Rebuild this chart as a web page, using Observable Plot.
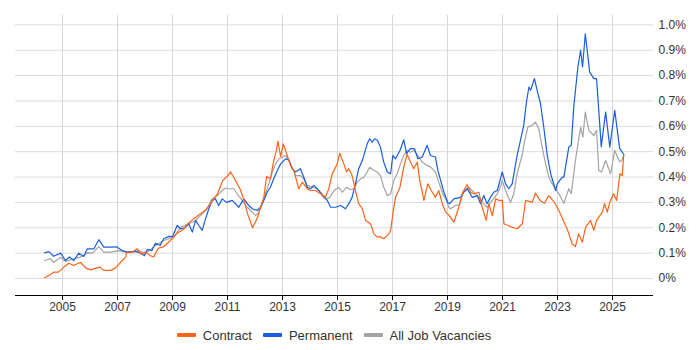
<!DOCTYPE html>
<html><head><meta charset="utf-8">
<script src="https://cdn.jsdelivr.net/npm/d3@7"></script>
<script src="https://cdn.jsdelivr.net/npm/@observablehq/plot@0.6"></script>
<style>
body{margin:0;background:#fff;font-family:"Liberation Sans",Arial,sans-serif;}
#legend{display:flex;justify-content:center;align-items:center;gap:11px;font-size:13px;color:#333;height:30px;padding:0 47px 0 15px;}
.item{display:flex;align-items:center;}
.sw{width:19px;height:4px;margin-right:7px;border-radius:1px}
</style></head><body><div id="chart"></div><div id="legend"></div>
<script>
const seriesNames = ["Contract", "Permanent", "All Job Vacancies"];
const seriesColors = ["#ff6319", "#1a5ddc", "#a3a3a3"];
const xTicks = [2005, 2007, 2009, 2011, 2013, 2015, 2017, 2019, 2021, 2023, 2025];
const yTicks = [0, 0.1, 0.2, 0.3, 0.4, 0.5, 0.6, 0.7, 0.8, 0.9, 1.0];

const contractYears = [2004.35,2004.50,2004.68,2004.85,2005.05,2005.23,2005.41,2005.65,2005.84,2006.02,
2006.26,2006.36,2006.50,2006.75,2006.93,2007.11,2007.29,2007.33,2007.53,2007.72,
2007.84,2008.02,2008.20,2008.31,2008.49,2008.67,2008.93,2009.18,2009.36,2009.55,
2009.76,2010.02,2010.20,2010.38,2010.64,2010.82,2011.04,2011.11,2011.22,2011.47,
2011.62,2011.73,2011.91,2012.09,2012.20,2012.32,2012.42,2012.56,2012.68,2012.78,
2012.83,2012.93,2013.03,2013.17,2013.29,2013.41,2013.59,2013.72,2013.90,2014.02,
2014.20,2014.38,2014.56,2014.68,2014.81,2014.99,2015.08,2015.23,2015.33,2015.41,
2015.53,2015.65,2015.77,2015.90,2016.02,2016.20,2016.32,2016.44,2016.56,2016.68,
2016.87,2016.93,2017.03,2017.11,2017.27,2017.41,2017.53,2017.65,2017.77,2017.90,
2017.99,2018.14,2018.28,2018.41,2018.56,2018.68,2018.81,2018.93,2019.05,2019.23,
2019.41,2019.53,2019.71,2019.84,2019.96,2020.14,2020.26,2020.41,2020.50,2020.63,
2020.75,2020.87,2020.99,2021.05,2021.18,2021.35,2021.53,2021.72,2021.84,2022.08,
2022.20,2022.36,2022.53,2022.68,2022.89,2023.05,2023.21,2023.37,2023.53,2023.65,
2023.77,2023.90,2024.02,2024.20,2024.32,2024.42,2024.63,2024.71,2024.81,2024.90,
2025.03,2025.15,2025.27,2025.35,2025.41];
const contractValues = [0.003,0.012,0.025,0.025,0.045,0.06,0.051,0.064,0.042,0.034,
0.042,0.045,0.032,0.032,0.042,0.064,0.084,0.101,0.104,0.117,
0.097,0.104,0.09,0.085,0.12,0.125,0.15,0.18,0.19,0.215,
0.235,0.255,0.27,0.295,0.335,0.385,0.41,0.42,0.40,0.35,
0.30,0.255,0.20,0.24,0.281,0.32,0.402,0.393,0.465,0.505,
0.542,0.481,0.531,0.485,0.446,0.426,0.354,0.38,0.354,0.347,
0.347,0.334,0.32,0.354,0.413,0.452,0.494,0.452,0.42,0.433,
0.406,0.347,0.295,0.275,0.229,0.216,0.176,0.163,0.165,0.157,
0.176,0.19,0.268,0.32,0.36,0.44,0.49,0.459,0.433,0.459,
0.387,0.308,0.373,0.347,0.32,0.347,0.295,0.262,0.25,0.222,
0.281,0.334,0.371,0.34,0.334,0.34,0.281,0.229,0.295,0.248,
0.314,0.308,0.308,0.216,0.21,0.202,0.196,0.216,0.308,0.30,
0.337,0.308,0.297,0.327,0.30,0.268,0.229,0.19,0.137,0.126,
0.176,0.143,0.202,0.229,0.19,0.229,0.262,0.295,0.262,0.30,
0.334,0.308,0.413,0.406,0.49];

const permanentYears = [2004.35,2004.50,2004.68,2004.93,2005.11,2005.25,2005.41,2005.59,2005.77,2005.90,
2006.14,2006.32,2006.50,2006.75,2006.96,2007.17,2007.35,2007.65,2007.84,2007.98,
2008.09,2008.25,2008.38,2008.55,2008.68,2008.87,2009.00,2009.17,2009.29,2009.45,
2009.59,2009.72,2009.84,2009.95,2010.08,2010.20,2010.32,2010.44,2010.56,2010.68,
2010.81,2010.96,2011.17,2011.41,2011.59,2011.77,2011.90,2012.08,2012.20,2012.32,
2012.44,2012.56,2012.68,2012.81,2012.93,2013.11,2013.22,2013.35,2013.47,2013.65,
2013.77,2013.90,2014.02,2014.14,2014.32,2014.50,2014.63,2014.75,2014.93,2015.11,
2015.29,2015.41,2015.53,2015.65,2015.77,2015.90,2016.08,2016.17,2016.26,2016.35,
2016.45,2016.56,2016.68,2016.81,2016.93,2017.01,2017.11,2017.27,2017.41,2017.51,
2017.65,2017.80,2017.92,2018.08,2018.26,2018.38,2018.56,2018.65,2018.75,2018.87,
2019.01,2019.08,2019.23,2019.47,2019.59,2019.72,2019.90,2020.08,2020.20,2020.32,
2020.44,2020.56,2020.68,2020.81,2020.99,2021.11,2021.23,2021.35,2021.53,2021.65,
2021.77,2021.87,2021.96,2022.02,2022.16,2022.26,2022.38,2022.50,2022.62,2022.75,
2022.93,2022.99,2023.17,2023.23,2023.41,2023.50,2023.59,2023.74,2023.84,2023.91,
2024.01,2024.17,2024.32,2024.42,2024.59,2024.75,2024.90,2025.08,2025.26,2025.41];
const permanentValues = [0.101,0.106,0.088,0.10,0.071,0.085,0.071,0.10,0.087,0.117,
0.117,0.153,0.124,0.124,0.125,0.11,0.104,0.107,0.10,0.09,
0.115,0.11,0.139,0.13,0.157,0.166,0.165,0.209,0.196,0.20,
0.216,0.183,0.229,0.21,0.19,0.235,0.275,0.308,0.314,0.288,
0.314,0.30,0.308,0.281,0.314,0.288,0.275,0.268,0.281,0.308,
0.34,0.36,0.393,0.426,0.452,0.472,0.47,0.433,0.42,0.433,
0.40,0.36,0.354,0.367,0.347,0.32,0.308,0.281,0.281,0.288,
0.275,0.295,0.32,0.373,0.433,0.465,0.531,0.551,0.538,0.551,
0.545,0.518,0.459,0.42,0.413,0.485,0.472,0.505,0.547,0.492,
0.512,0.512,0.472,0.479,0.525,0.485,0.479,0.426,0.387,0.34,
0.30,0.295,0.314,0.32,0.34,0.354,0.32,0.327,0.295,0.327,
0.295,0.32,0.34,0.347,0.42,0.373,0.354,0.373,0.485,0.544,
0.604,0.696,0.755,0.742,0.788,0.742,0.69,0.597,0.49,0.413,
0.347,0.373,0.40,0.40,0.518,0.525,0.676,0.834,0.90,0.834,
0.965,0.814,0.788,0.788,0.52,0.656,0.518,0.663,0.512,0.49];

const allYears = [2004.35,2004.56,2004.68,2004.93,2005.11,2005.41,2005.65,2005.90,2006.09,2006.32,
2006.50,2006.75,2007.05,2007.29,2007.53,2007.77,2007.98,2008.08,2008.38,2008.68,
2009.05,2009.29,2009.59,2009.84,2010.08,2010.26,2010.44,2010.63,2010.81,2010.93,
2011.05,2011.23,2011.35,2011.53,2011.72,2011.84,2012.02,2012.14,2012.26,2012.38,
2012.50,2012.63,2012.75,2012.87,2013.11,2013.23,2013.35,2013.47,2013.65,2013.77,
2013.90,2014.08,2014.26,2014.44,2014.60,2014.72,2014.87,2015.05,2015.17,2015.33,
2015.47,2015.59,2015.72,2015.84,2015.96,2016.08,2016.17,2016.32,2016.44,2016.56,
2016.68,2016.81,2016.93,2017.05,2017.17,2017.29,2017.41,2017.53,2017.65,2017.77,
2017.92,2018.08,2018.26,2018.38,2018.56,2018.68,2018.81,2018.93,2019.05,2019.11,
2019.29,2019.44,2019.59,2019.77,2019.96,2020.14,2020.32,2020.44,2020.63,2020.81,
2020.90,2020.99,2021.11,2021.29,2021.41,2021.53,2021.72,2021.80,2021.92,2022.08,
2022.20,2022.32,2022.42,2022.55,2022.68,2022.81,2023.05,2023.23,2023.41,2023.50,
2023.65,2023.84,2023.92,2024.01,2024.14,2024.32,2024.42,2024.50,2024.60,2024.75,
2024.93,2025.08,2025.26,2025.34,2025.41];
const allValues = [0.071,0.078,0.064,0.084,0.067,0.078,0.084,0.101,0.10,0.126,
0.104,0.104,0.11,0.104,0.104,0.11,0.10,0.104,0.13,0.15,
0.163,0.202,0.216,0.229,0.255,0.275,0.314,0.327,0.347,0.357,
0.354,0.354,0.334,0.308,0.281,0.268,0.248,0.262,0.295,0.334,
0.373,0.42,0.452,0.472,0.485,0.465,0.439,0.406,0.406,0.393,
0.367,0.36,0.354,0.334,0.314,0.32,0.347,0.36,0.34,0.36,
0.35,0.354,0.38,0.393,0.40,0.42,0.439,0.426,0.42,0.406,
0.36,0.327,0.334,0.387,0.413,0.452,0.485,0.505,0.498,0.505,
0.485,0.459,0.446,0.44,0.42,0.38,0.34,0.314,0.281,0.275,
0.288,0.29,0.347,0.36,0.34,0.32,0.295,0.281,0.308,0.334,
0.354,0.387,0.347,0.30,0.334,0.413,0.49,0.54,0.597,0.604,
0.617,0.59,0.53,0.46,0.40,0.373,0.334,0.297,0.354,0.334,
0.465,0.597,0.557,0.656,0.584,0.564,0.584,0.426,0.42,0.465,
0.413,0.505,0.46,0.465,0.49];

const toRows = (years, values) => years.map((x, i) => ({x, y: values[i]}));
const series = [
  toRows(contractYears, contractValues),
  toRows(permanentYears, permanentValues),
  toRows(allYears, allValues)
];
const yMin = -0.067, yMax = 1.037;

const chart = Plot.plot({
  width: 700, height: 320,
  marginLeft: 15, marginRight: 47, marginTop: 15, marginBottom: 25,
  x: {domain: [2003.29, 2026.49]},
  y: {domain: [yMin, yMax]},
  style: {fontFamily: "'Liberation Sans', Arial, sans-serif", fontSize: "12px", color: "#333", background: "#fff"},
  marks: [
    Plot.gridY(yTicks, {stroke: "#dcdcdc", strokeOpacity: 1}),
    Plot.gridX(xTicks, {stroke: "#d6d6d6", strokeOpacity: 1}),
    Plot.axisY(yTicks, {anchor: "right", tickSize: 0, tickPadding: 5, label: null,
      tickFormat: d => d === 0 ? "0%" : d.toFixed(1) + "%"}),
    Plot.axisX(xTicks, {anchor: "bottom", tickSize: 5, tickPadding: 2, label: null, tickFormat: d => String(d), stroke: "#000"}),
    Plot.ruleY([yMin], {stroke: "#000", strokeWidth: 1.2}),
    Plot.line(series[2], {x: "x", y: "y", stroke: seriesColors[2], strokeWidth: 1.2}),
    Plot.line(series[1], {x: "x", y: "y", stroke: seriesColors[1], strokeWidth: 1.2}),
    Plot.line(series[0], {x: "x", y: "y", stroke: seriesColors[0], strokeWidth: 1.2})
  ]
});
document.getElementById("chart").append(chart);

const legend = document.getElementById("legend");
seriesNames.forEach((name, i) => {
  const item = document.createElement("div");
  item.className = "item";
  item.innerHTML = `<span class="sw" style="background:${seriesColors[i]}"></span><span>${name}</span>`;
  legend.append(item);
});
</script></body></html>
